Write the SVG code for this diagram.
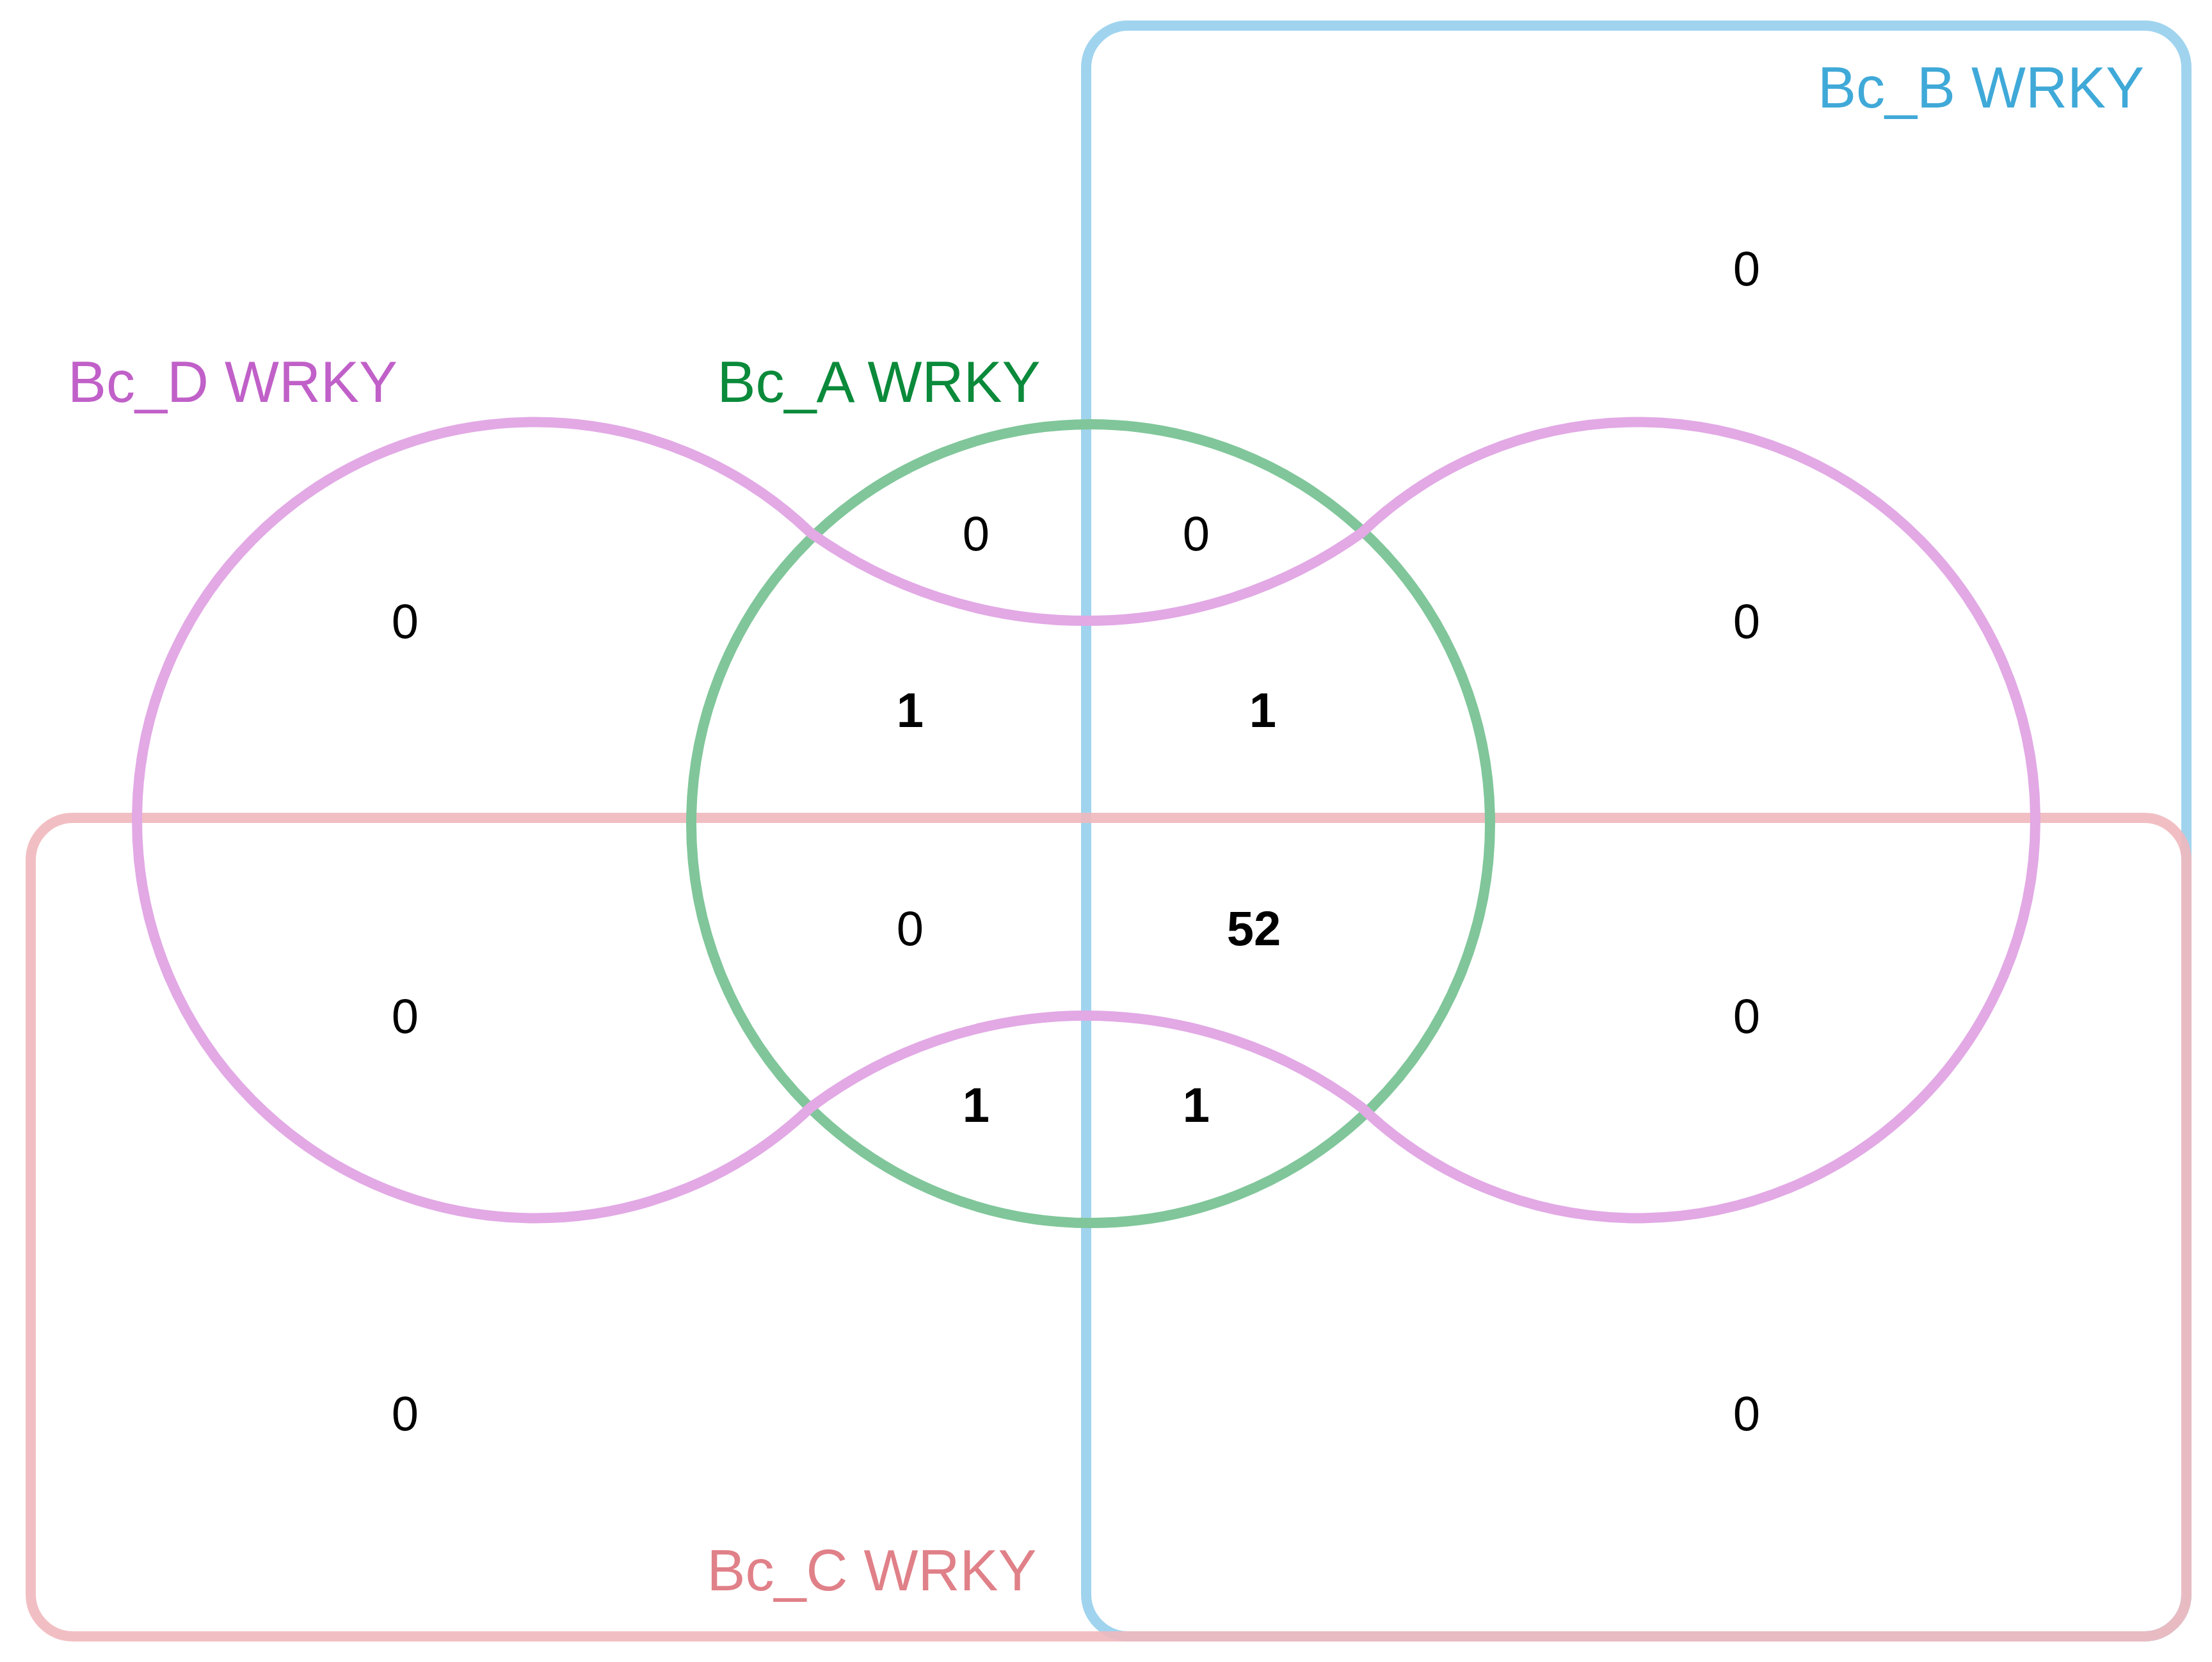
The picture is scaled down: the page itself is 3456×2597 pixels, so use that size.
<svg xmlns="http://www.w3.org/2000/svg" width="3456" height="2597" viewBox="0 0 3456 2597">
<style>
.s{fill:none;stroke-width:16}
.n{font-family:"Liberation Sans",Arial,sans-serif;font-size:76px;text-anchor:middle;fill:#000}
.b{font-weight:bold}
.l{font-family:"Liberation Sans",Arial,sans-serif;font-size:90px}
</style>
<rect width="3456" height="2597" fill="#fff"/>
<g id="setB"><rect class="s" x="1697" y="40" width="1719" height="2517" rx="66" stroke="#a0d4ee"/></g>
<g id="setC"><rect class="s" x="48" y="1278" width="3368" height="1279" rx="66" stroke="#f0b8bc" opacity="0.9"/></g>
<g id="setA"><circle class="s" cx="1704" cy="1287" r="624" stroke="#80c69a"/></g>
<g id="setD"><path class="s" stroke="#e2a9e5" d="M1267,833 A622,622 0 1,0 1267,1730 A718,718 0 0,1 2127,1730 A622,622 0 1,0 2127,833 A743,743 0 0,1 1267,833 Z"/></g>
<g id="labels">
<text class="l" x="3350" y="168" text-anchor="end" fill="#3fa9d8">Bc_B WRKY</text>
<text class="l" x="106" y="628" fill="#c060c8">Bc_D WRKY</text>
<text class="l" x="1373" y="628" text-anchor="middle" fill="#0a8a3a">Bc_A WRKY</text>
<text class="l" x="1362" y="2485" text-anchor="middle" fill="#e08088">Bc_C WRKY</text>
</g>
<g id="counts">
<text class="n" x="2729" y="446">0</text>
<text class="n" x="633" y="997">0</text>
<text class="n" x="1525" y="860">0</text>
<text class="n" x="1869" y="860">0</text>
<text class="n" x="2729" y="997">0</text>
<text class="n b" x="1422" y="1136">1</text>
<text class="n b" x="1973" y="1136">1</text>
<text class="n" x="1422" y="1477">0</text>
<text class="n b" x="1959" y="1477">52</text>
<text class="n" x="633" y="1614">0</text>
<text class="n" x="2729" y="1614">0</text>
<text class="n b" x="1525" y="1753">1</text>
<text class="n b" x="1869" y="1753">1</text>
<text class="n" x="633" y="2235">0</text>
<text class="n" x="2729" y="2235">0</text>
</g>
</svg>
